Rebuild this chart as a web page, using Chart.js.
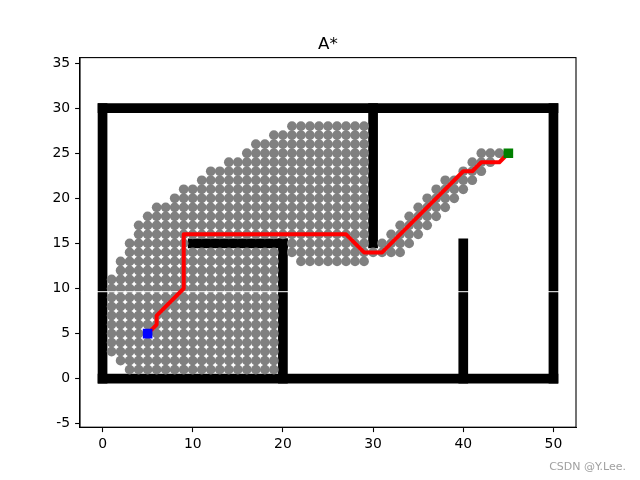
<!DOCTYPE html>
<html>
<head>
<meta charset="utf-8">
<script src="https://cdn.jsdelivr.net/npm/chart.js@4"></script>
<style>
  html, body { margin: 0; padding: 0; background: #fff; }
  canvas { display: block; }
</style>
</head>
<body>
<canvas id="grafica-astar" width="640" height="480"></canvas>
<script>
// Obstaculos: tramos de pared [x1, y1, x2, y2]
const paredes = [
  [0, 0, 50, 0],
  [0, 30, 50, 30],
  [0, 0, 0, 30],
  [50, 0, 50, 30],
  [20, 0, 20, 15],
  [10, 15, 20, 15],
  [30, 15, 30, 30],
  [40, 0, 40, 15]
];

// Nodos explorados por fila: [y, xDesde, xHasta]
const filasExploradas = [
  [28, 21, 29], [27, 19, 29], [26, 17, 29], [25, 16, 29], [25, 42, 44],
  [24, 14, 29], [24, 41, 43], [23, 12, 29], [23, 40, 42],
  [22, 11, 29], [22, 38, 41], [21, 9, 29], [21, 37, 40],
  [20, 8, 29], [20, 36, 39], [19, 6, 29], [19, 35, 38],
  [18, 5, 29], [18, 34, 37], [17, 4, 29], [17, 33, 36],
  [16, 4, 29], [16, 32, 35], [15, 3, 9], [15, 21, 29], [15, 31, 34],
  [14, 3, 19], [14, 21, 33], [13, 2, 19], [13, 22, 29],
  [12, 2, 19], [11, 1, 19], [10, 1, 19], [9, 1, 19], [8, 1, 19],
  [7, 1, 19], [6, 1, 19], [5, 1, 19], [4, 1, 19], [3, 1, 19],
  [2, 2, 19], [1, 3, 19]
];

// Ruta final
const rutaX = [5, 6, 6, 9, 9, 27, 29, 31, 40, 41, 42, 44, 45];
const rutaY = [5, 6, 7, 10, 16, 16, 14, 14, 23, 23, 24, 24, 25];

const inicio = {x: 5, y: 5};
const meta = {x: 45, y: 25};

const ticksX = [0, 10, 20, 30, 40, 50];
const ticksY = [-5, 0, 5, 10, 15, 20, 25, 30, 35];

const titulo = "A*";
const marcaAgua = "CSDN @Y.Lee.";

// construir puntos explorados
const puntosExplorados = [];
filasExploradas.forEach(fila => {
  for (let x = fila[1]; x <= fila[2]; x++) {
    puntosExplorados.push({x: x, y: fila[0]});
  }
});

const puntosRuta = rutaX.map((x, i) => ({x: x, y: rutaY[i]}));

const datasetsParedes = paredes.map(p => ({
  data: [{x: p[0], y: p[1]}, {x: p[2], y: p[3]}],
  showLine: true,
  borderColor: "#000",
  borderWidth: 9.7,
  borderCapStyle: "square",
  pointRadius: 0,
  order: 4
}));

const fuente = "DejaVu Sans, sans-serif";

const marcoPlugin = {
  id: "marco",
  beforeDatasetDraw(chart, args) {
    // linea blanca fina que se ve en la imagen original
    if (args.index !== 2) return;
    const {ctx, chartArea} = chart;
    ctx.save();
    ctx.fillStyle = "#fff";
    ctx.fillRect(chartArea.left, 291.2, chartArea.right - chartArea.left, 1);
    ctx.restore();
  },
  afterDraw(chart) {
    const {ctx, chartArea} = chart;
    ctx.save();
    ctx.strokeStyle = "#000";
    ctx.lineWidth = 1.1;
    ctx.strokeRect(chartArea.left, chartArea.top,
      chartArea.right - chartArea.left, chartArea.bottom - chartArea.top);
    ctx.fillStyle = "#000";
    ctx.font = "16.7px " + fuente;
    ctx.textAlign = "center";
    ctx.textBaseline = "alphabetic";
    ctx.fillText(titulo, (chartArea.left + chartArea.right) / 2, 49);
    ctx.fillStyle = "#a0a0a0";
    ctx.font = "11px " + fuente;
    ctx.textAlign = "right";
    ctx.fillText(marcaAgua, 626, 470);
    ctx.restore();
  }
};

const graficaAstar = document.getElementById("grafica-astar");

new Chart(graficaAstar, {
  type: "scatter",
  data: {
    datasets: [
      {
        data: [inicio],
        pointStyle: "rect",
        pointRadius: 6.8,
        pointBorderWidth: 0,
        backgroundColor: "#0000ff",
        order: 0
      },
      {
        data: [meta],
        pointStyle: "rect",
        pointRadius: 6.8,
        pointBorderWidth: 0,
        backgroundColor: "#008000",
        order: 0
      },
      {
        data: puntosRuta,
        showLine: true,
        borderColor: "#ff0000",
        borderWidth: 4,
        borderCapStyle: "square",
        borderJoinStyle: "round",
        pointRadius: 0,
        order: 1
      },
      {
        data: puntosExplorados,
        pointStyle: "circle",
        pointRadius: 4.85,
        pointBorderWidth: 0,
        backgroundColor: "#808080",
        order: 3
      },
      ...datasetsParedes
    ]
  },
  options: {
    responsive: false,
    animation: false,
    events: [],
    layout: {padding: {top: 57.6, right: 64, left: 0, bottom: 0}},
    plugins: {legend: {display: false}, tooltip: {enabled: false}, title: {display: false}},
    scales: {
      x: {
        type: "linear",
        min: -2.5,
        max: 52.5,
        afterBuildTicks: scale => { scale.ticks = ticksX.map(v => ({value: v})); },
        afterFit: scale => { scale.height = 52.8; },
        grid: {drawOnChartArea: false, drawTicks: true, tickLength: 4.9, tickWidth: 1.1, tickColor: "#000"},
        border: {display: true, color: "#000", width: 1.1},
        ticks: {color: "#000", font: {family: fuente, size: 13.9}, padding: 4, maxRotation: 0}
      },
      y: {
        type: "linear",
        min: -5.38,
        max: 35.60,
        afterBuildTicks: scale => { scale.ticks = ticksY.map(v => ({value: v})); },
        afterFit: scale => { scale.width = 80; },
        grid: {drawOnChartArea: false, drawTicks: true, tickLength: 4.9, tickWidth: 1.1, tickColor: "#000"},
        border: {display: true, color: "#000", width: 1.1},
        ticks: {color: "#000", font: {family: fuente, size: 13.9}, padding: 4.9}
      }
    }
  },
  plugins: [marcoPlugin]
});
</script>
</body>
</html>
